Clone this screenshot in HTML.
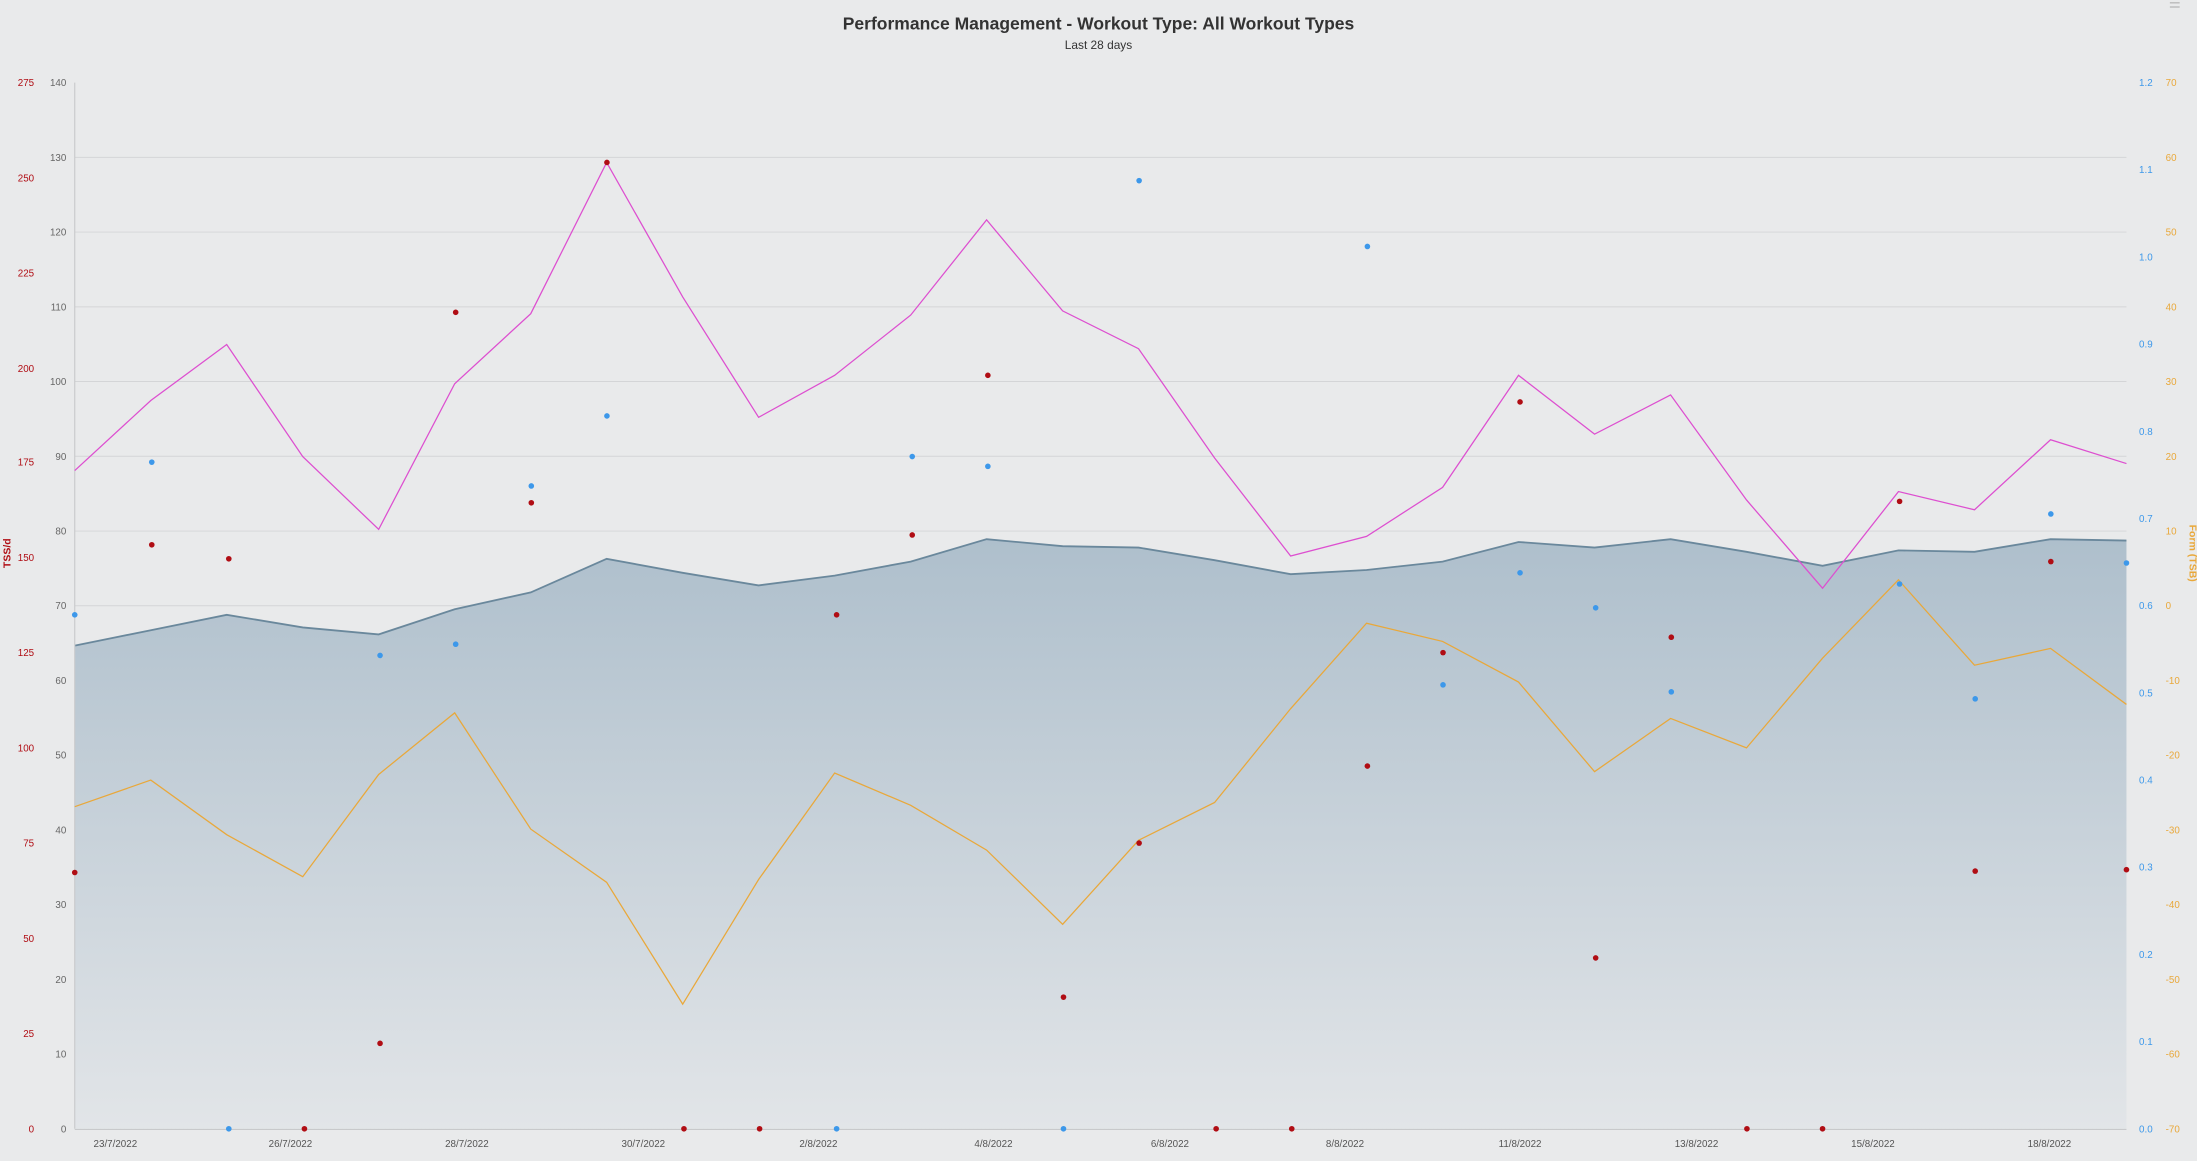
<!DOCTYPE html>
<html><head><meta charset="utf-8"><style>
html,body{margin:0;padding:0;background:#e9eaeb;}
svg{display:block;font-family:"Liberation Sans",sans-serif;}
</style></head><body>
<svg width="2197" height="1161" viewBox="0 0 1568 829" xmlns="http://www.w3.org/2000/svg">
<defs>
<linearGradient id="g" x1="0" y1="0" x2="0" y2="1">
<stop offset="0" stop-color="#aebfcc"/>
<stop offset="1" stop-color="#e2e5e8"/>
</linearGradient>
</defs>
<rect width="1568" height="829" fill="#e9eaeb"/>
<text x="784" y="21" text-anchor="middle" font-size="12.5" font-weight="bold" fill="#333">Performance Management - Workout Type: All Workout Types</text>
<text x="784" y="35" text-anchor="middle" font-size="8.5" fill="#333">Last 28 days</text>
<g stroke="#d4d5d7" stroke-width="0.7">
<line x1="53" x2="1518" y1="112.4" y2="112.4"/><line x1="53" x2="1518" y1="165.7" y2="165.7"/><line x1="53" x2="1518" y1="219.1" y2="219.1"/><line x1="53" x2="1518" y1="272.4" y2="272.4"/><line x1="53" x2="1518" y1="325.8" y2="325.8"/><line x1="53" x2="1518" y1="379.2" y2="379.2"/><line x1="53" x2="1518" y1="432.5" y2="432.5"/><line x1="53" x2="1518" y1="485.9" y2="485.9"/><line x1="53" x2="1518" y1="539.2" y2="539.2"/><line x1="53" x2="1518" y1="592.6" y2="592.6"/><line x1="53" x2="1518" y1="646" y2="646"/><line x1="53" x2="1518" y1="699.3" y2="699.3"/><line x1="53" x2="1518" y1="752.6" y2="752.6"/>
</g>
<polygon fill="url(#g)" points="53,806 53,461 107.3,450 161.5,439 215.8,448 270,453 324.3,435 378.6,423 432.8,399 487.1,409 541.3,418 595.6,411 649.9,401 704.1,385 758.4,390 812.6,391 866.9,400 921.2,410 975.4,407 1029.7,401 1083.9,387 1138.2,391 1192.5,385 1246.7,394 1301,404 1355.2,393 1409.5,394 1463.8,385 1518,386 1518,806"/>
<polyline fill="none" stroke="#6a889c" stroke-width="1.3" points="53,461 107.3,450 161.5,439 215.8,448 270,453 324.3,435 378.6,423 432.8,399 487.1,409 541.3,418 595.6,411 649.9,401 704.1,385 758.4,390 812.6,391 866.9,400 921.2,410 975.4,407 1029.7,401 1083.9,387 1138.2,391 1192.5,385 1246.7,394 1301,404 1355.2,393 1409.5,394 1463.8,385 1518,386"/>
<line x1="53" x2="53" y1="59" y2="806" stroke="#c8c9cb" stroke-width="0.8"/>
<line x1="53" x2="1518" y1="806.5" y2="806.5" stroke="#c8c9cb" stroke-width="0.8"/>
<polyline fill="none" stroke="#e0559c" stroke-width="0.9" points="53,336 107.3,286 161.5,246 215.8,326 270,378 324.3,274 378.6,224 432.8,116 487.1,212 541.3,298 595.6,268 649.9,225 704.1,157 758.4,222 812.6,249 866.9,327 921.2,397 975.4,383 1029.7,348 1083.9,268 1138.2,310 1192.5,282 1246.7,357 1301,420 1355.2,351 1409.5,364 1463.8,314 1518,331" style="stroke:#dd4fd0"/>
<polyline fill="none" stroke="#e9a83a" stroke-width="0.9" points="53,576 107.3,557 161.5,596 215.8,626 270,553 324.3,509 378.6,592 432.8,630 487.1,717 541.3,628 595.6,552 649.9,575 704.1,607 758.4,660 812.6,600 866.9,573 921.2,506 975.4,445 1029.7,458 1083.9,487 1138.2,551 1192.5,513 1246.7,534 1301,470 1355.2,414 1409.5,475 1463.8,463 1518,503"/>
<g fill="#b00d14">
<circle cx="53" cy="623" r="2"/><circle cx="108" cy="389" r="2"/><circle cx="163" cy="399" r="2"/><circle cx="217" cy="806" r="2"/><circle cx="271" cy="745" r="2"/><circle cx="325" cy="223" r="2"/><circle cx="379" cy="359" r="2"/><circle cx="433" cy="116" r="2"/><circle cx="488" cy="806" r="2"/><circle cx="542" cy="806" r="2"/><circle cx="597" cy="439" r="2"/><circle cx="651" cy="382" r="2"/><circle cx="705" cy="268" r="2"/><circle cx="759" cy="712" r="2"/><circle cx="813" cy="602" r="2"/><circle cx="868" cy="806" r="2"/><circle cx="922" cy="806" r="2"/><circle cx="976" cy="547" r="2"/><circle cx="1030" cy="466" r="2"/><circle cx="1085" cy="287" r="2"/><circle cx="1139" cy="684" r="2"/><circle cx="1193" cy="455" r="2"/><circle cx="1247" cy="806" r="2"/><circle cx="1301" cy="806" r="2"/><circle cx="1356" cy="358" r="2"/><circle cx="1410" cy="622" r="2"/><circle cx="1464" cy="401" r="2"/><circle cx="1518" cy="621" r="2"/>
</g>
<g fill="#3d98ea">
<circle cx="53" cy="439" r="2"/><circle cx="108" cy="330" r="2"/><circle cx="163" cy="806" r="2"/><circle cx="271" cy="468" r="2"/><circle cx="325" cy="460" r="2"/><circle cx="379" cy="347" r="2"/><circle cx="433" cy="297" r="2"/><circle cx="597" cy="806" r="2"/><circle cx="651" cy="326" r="2"/><circle cx="705" cy="333" r="2"/><circle cx="759" cy="806" r="2"/><circle cx="813" cy="129" r="2"/><circle cx="976" cy="176" r="2"/><circle cx="1030" cy="489" r="2"/><circle cx="1085" cy="409" r="2"/><circle cx="1139" cy="434" r="2"/><circle cx="1193" cy="494" r="2"/><circle cx="1356" cy="417" r="2"/><circle cx="1410" cy="499" r="2"/><circle cx="1464" cy="367" r="2"/><circle cx="1518" cy="402" r="2"/>
</g>
<g font-size="7" fill="#666" text-anchor="end">
<text x="47" y="61.5">140</text><text x="47" y="114.9">130</text><text x="47" y="168.2">120</text><text x="47" y="221.6">110</text><text x="47" y="274.9">100</text><text x="47" y="328.3">90</text><text x="47" y="381.7">80</text><text x="47" y="435">70</text><text x="47" y="488.4">60</text><text x="47" y="541.7">50</text><text x="47" y="595.1">40</text><text x="47" y="648.5">30</text><text x="47" y="701.8">20</text><text x="47" y="755.1">10</text><text x="47" y="808.5">0</text>
</g>
<g font-size="7" fill="#b00d14" text-anchor="end">
<text x="24" y="61.5">275</text><text x="24" y="129.5">250</text><text x="24" y="197.5">225</text><text x="24" y="265.5">200</text><text x="24" y="332.5">175</text><text x="24" y="400.5">150</text><text x="24" y="468.5">125</text><text x="24" y="536.5">100</text><text x="24" y="604.5">75</text><text x="24" y="672.5">50</text><text x="24" y="740.5">25</text><text x="24" y="808.5">0</text>
</g>
<text transform="translate(7,395) rotate(-90)" text-anchor="middle" font-size="7.5" font-weight="bold" fill="#b00d14">TSS/d</text>
<g font-size="7" fill="#3d98ea">
<text x="1527" y="61.5">1.2</text><text x="1527" y="123.7">1.1</text><text x="1527" y="186">1.0</text><text x="1527" y="248.2">0.9</text><text x="1527" y="310.5">0.8</text><text x="1527" y="372.7">0.7</text><text x="1527" y="435">0.6</text><text x="1527" y="497.2">0.5</text><text x="1527" y="559.5">0.4</text><text x="1527" y="621.7">0.3</text><text x="1527" y="684">0.2</text><text x="1527" y="746.2">0.1</text><text x="1527" y="808.5">0.0</text>
</g>
<g font-size="7" fill="#e9a83a">
<text x="1546" y="61.5">70</text><text x="1546" y="114.9">60</text><text x="1546" y="168.2">50</text><text x="1546" y="221.6">40</text><text x="1546" y="274.9">30</text><text x="1546" y="328.3">20</text><text x="1546" y="381.7">10</text><text x="1546" y="435">0</text><text x="1546" y="488.4">-10</text><text x="1546" y="541.7">-20</text><text x="1546" y="595.1">-30</text><text x="1546" y="648.5">-40</text><text x="1546" y="701.8">-50</text><text x="1546" y="755.1">-60</text><text x="1546" y="808.5">-70</text>
</g>
<text transform="translate(1563,395) rotate(90)" text-anchor="middle" font-size="7.5" font-weight="bold" fill="#e9a83a">Form (TSB)</text>
<g font-size="7" fill="#555" text-anchor="middle">
<text x="82" y="819">23/7/2022</text><text x="207" y="819">26/7/2022</text><text x="333" y="819">28/7/2022</text><text x="459" y="819">30/7/2022</text><text x="584" y="819">2/8/2022</text><text x="709" y="819">4/8/2022</text><text x="835" y="819">6/8/2022</text><text x="960" y="819">8/8/2022</text><text x="1085" y="819">11/8/2022</text><text x="1211" y="819">13/8/2022</text><text x="1337" y="819">15/8/2022</text><text x="1463" y="819">18/8/2022</text>
</g>
<g stroke="#bbb" stroke-width="1"><line x1="1549" x2="1556" y1="2" y2="2"/><line x1="1549" x2="1556" y1="5" y2="5"/></g>
</svg>
</body></html>
